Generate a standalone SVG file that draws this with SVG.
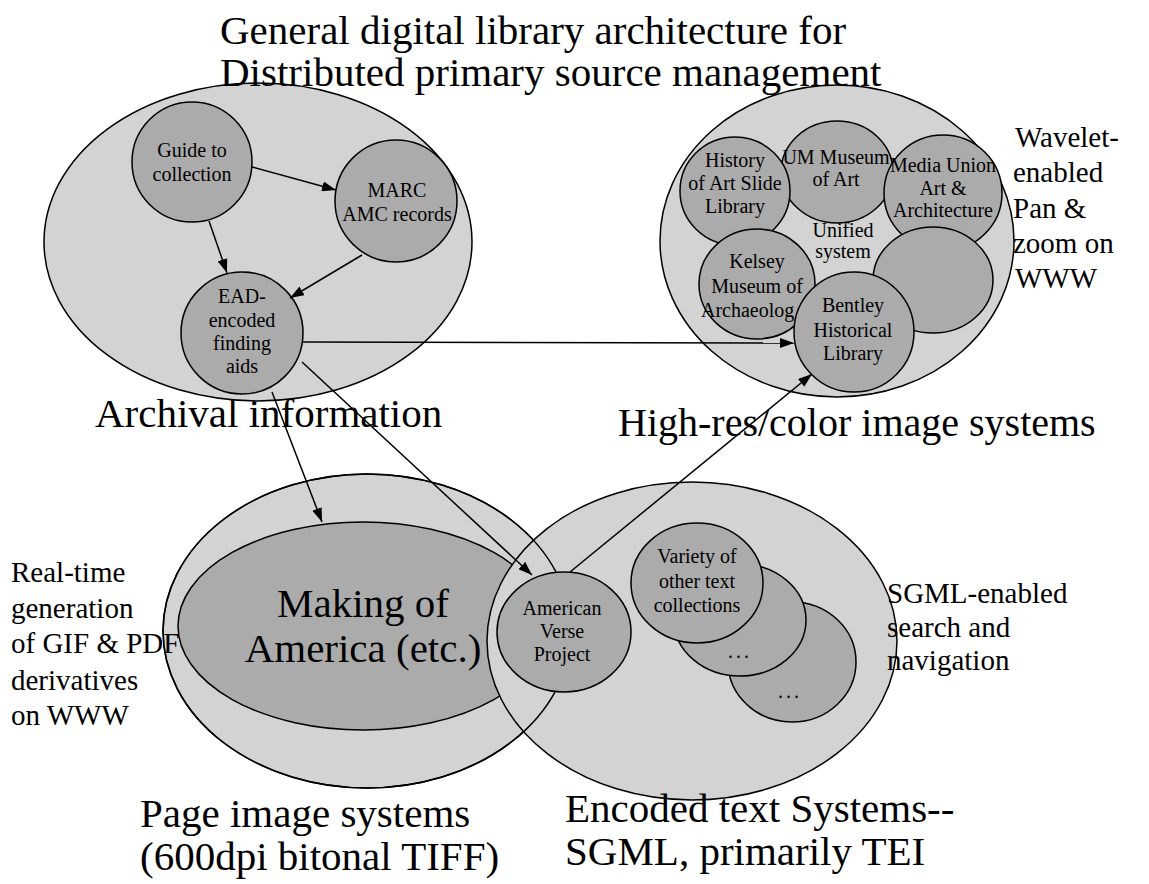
<svg xmlns="http://www.w3.org/2000/svg" width="1149" height="884" viewBox="0 0 1149 884">
<style>
.outer{fill:#d3d3d3;stroke:#000;stroke-width:1.5}
.inner{fill:#ababab;stroke:#000;stroke-width:1.5}
.edge{fill:none;stroke:#000;stroke-width:1.5}
.big{font-size:41px}
.side{font-size:29px}
.nd{font-size:20px;text-anchor:middle}
.conn{stroke:#000;stroke-width:1.5;fill:none;marker-end:url(#ah)}
</style>
<defs>
<marker id="ah" viewBox="0 0 14 10" refX="14" refY="5" markerWidth="14" markerHeight="10" markerUnits="userSpaceOnUse" orient="auto"><path d="M0,0 L14,5 L0,10 z" fill="#000"/></marker>
</defs>
<rect width="1149" height="884" fill="#fff"/>
<g font-family="Liberation Serif, Times New Roman, serif" fill="#000">

<g id="archival"><ellipse class="outer" cx="258" cy="242" rx="214" ry="159"/></g>
<g id="guide"><circle class="inner" cx="192" cy="162" r="60"/><text class="nd" x="192" y="157">Guide to</text><text class="nd" x="192" y="181">collection</text></g>
<g id="marc"><circle class="inner" cx="396" cy="201" r="61"/><text class="nd" x="397" y="197">MARC</text><text class="nd" x="397" y="221">AMC records</text></g>
<g id="ead"><circle class="inner" cx="242" cy="333" r="61"/><text class="nd" x="242" y="303">EAD-</text><text class="nd" x="242" y="327">encoded</text><text class="nd" x="242" y="350">finding</text><text class="nd" x="242" y="373">aids</text></g>

<g id="highres"><ellipse class="outer" cx="837" cy="241" rx="177" ry="156"/></g>
<g id="um"><ellipse class="inner" cx="837" cy="172" rx="56" ry="51"/><text class="nd" x="836" y="164">UM Museum</text><text class="nd" x="836" y="186">of Art</text></g>
<g id="history"><ellipse class="inner" cx="735" cy="191" rx="55" ry="54"/><text class="nd" x="735" y="167">History</text><text class="nd" x="735" y="190">of Art Slide</text><text class="nd" x="735" y="213">Library</text></g>
<g id="mediaunion"><ellipse class="inner" cx="943" cy="193" rx="59" ry="58"/><text class="nd" x="943" y="172">Media Union</text><text class="nd" x="943" y="195">Art &amp;</text><text class="nd" x="943" y="217">Architecture</text></g>
<g id="blank"><ellipse class="inner" cx="933" cy="280" rx="60" ry="53"/></g>
<g id="kelsey"><ellipse class="inner" cx="757" cy="284" rx="58" ry="55"/><text class="nd" x="757" y="268">Kelsey</text><text class="nd" x="757" y="293">Museum of</text><text font-size="20" x="701" y="317">Archaeolog</text></g>
<g id="bentley"><circle class="inner" cx="854" cy="332" r="60"/><text class="nd" x="853" y="312">Bentley</text><text class="nd" x="853" y="337">Historical</text><text class="nd" x="853" y="360">Library</text></g>
<g id="unified"><text class="nd" x="843" y="237">Unified</text><text class="nd" x="843" y="258">system</text></g>

<g id="pageimage"><ellipse class="outer" cx="367" cy="631" rx="204" ry="157"/></g>
<g id="making"><ellipse class="inner" cx="363" cy="626" rx="185" ry="104"/></g>
<g id="encoded"><ellipse class="outer" cx="692" cy="641" rx="205" ry="159"/></g>
<ellipse class="edge" cx="367" cy="631" rx="204" ry="157"/>
<g id="making-label"><text class="big" x="363" y="617" text-anchor="middle">Making of</text><text class="big" x="363" y="662" text-anchor="middle">America (etc.)</text></g>
<g id="dots2"><ellipse class="inner" cx="792" cy="662" rx="64" ry="60"/><text class="nd" x="790" y="698" letter-spacing="3">...</text></g>
<g id="dots1"><ellipse class="inner" cx="740" cy="620" rx="66" ry="56"/><text class="nd" x="740" y="658" letter-spacing="3">...</text></g>
<g id="variety"><ellipse class="inner" cx="697" cy="583" rx="66" ry="60"/><text class="nd" x="697" y="563">Variety of</text><text class="nd" x="697" y="588">other text</text><text class="nd" x="697" y="612">collections</text></g>
<g id="americanverse"><ellipse class="inner" cx="564" cy="632" rx="67" ry="60"/><text class="nd" x="562" y="615">American</text><text class="nd" x="562" y="638">Verse</text><text class="nd" x="562" y="661">Project</text></g>

<g id="title" class="big"><text x="220" y="44">General digital library architecture for</text><text x="220" y="86">Distributed primary source management</text></g>
<text class="big" x="95" y="427">Archival information</text>
<text x="618" y="436" font-size="40">High-res/color image systems</text>
<g id="wavelet" class="side"><text x="1015" y="147">Wavelet-</text><text x="1013" y="182">enabled</text><text x="1013" y="218">Pan &amp;</text><text x="1013" y="253">zoom on</text><text x="1015" y="288">WWW</text></g>
<g id="realtime" class="side"><text x="11" y="582">Real-time</text><text x="11" y="618">generation</text><text x="11" y="653">of GIF &amp; PDF</text><text x="11" y="690">derivatives</text><text x="11" y="725">on WWW</text></g>
<g id="sgml" class="side"><text x="887" y="603">SGML-enabled</text><text x="887" y="637">search and</text><text x="887" y="670">navigation</text></g>
<g id="pagelabel" class="big"><text x="140" y="827">Page image systems</text><text x="140" y="870">(600dpi bitonal TIFF)</text></g>
<g id="encodedlabel" class="big"><text x="565" y="822">Encoded text Systems--</text><text x="565" y="865">SGML, primarily TEI</text></g>

<g id="connectors">
<line class="conn" x1="252" y1="167" x2="336" y2="190"/>
<line class="conn" x1="209" y1="221" x2="227" y2="273"/>
<line class="conn" x1="362" y1="255" x2="290" y2="298"/>
<line class="conn" x1="303" y1="342" x2="794" y2="343"/>
<line class="conn" x1="272" y1="392" x2="322" y2="522"/>
<line class="conn" x1="302" y1="362" x2="532" y2="575"/>
<line class="conn" x1="570" y1="572" x2="812" y2="374"/>
</g>
</g>
</svg>
